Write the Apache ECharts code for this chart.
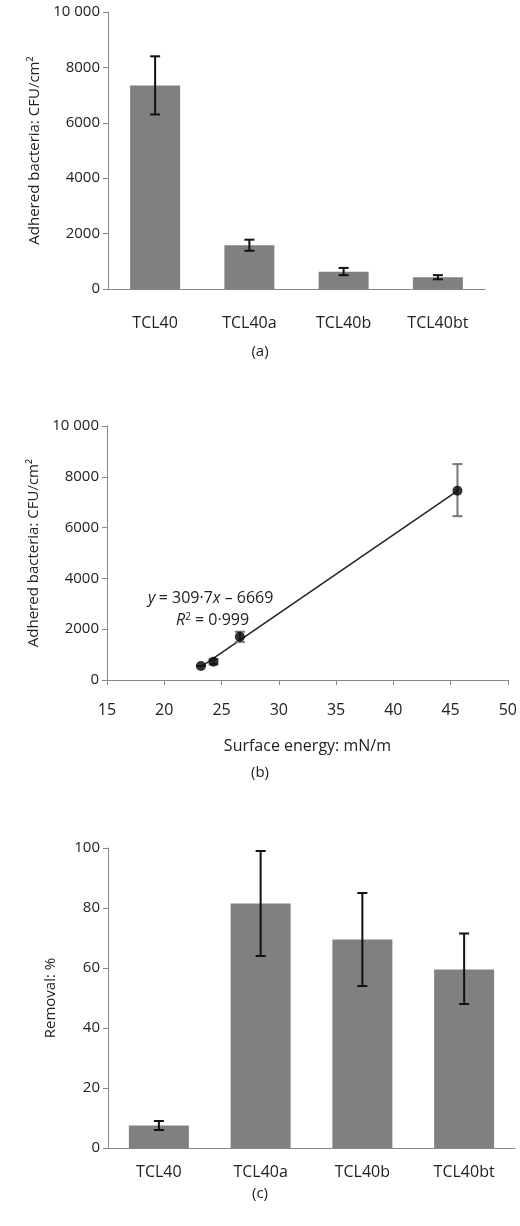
<!DOCTYPE html>
<html><head><meta charset="utf-8">
<script src="https://cdn.jsdelivr.net/npm/echarts@6/dist/echarts.min.js"></script>
<style>html,body{margin:0;padding:0;background:#fff}#c{width:520px;height:1226px}</style>
</head><body><div id="c"></div>
<script>
const categories = ['TCL40','TCL40a','TCL40b','TCL40bt'];
const adhered = [7350, 1580, 620, 420];
const adheredLow = [6300, 1380, 500, 350];
const adheredHigh = [8400, 1780, 760, 500];
const energyX = [23.2, 24.3, 26.6, 45.6];
const energyY = [550, 720, 1700, 7450];
const energyLow = [550, 620, 1500, 6450];
const energyHigh = [550, 820, 1900, 8500];
const trend = [[23.2, 520], [45.6, 7450]];
const removal = [7.5, 81.5, 69.5, 59.5];
const removalLow = [6, 64, 54, 48];
const removalHigh = [9, 99, 85, 71.5];

const font = 'Open Sans';
const fmt = v => v >= 10000 ? '10 000' : String(v);
const axisLine = {show:true, lineStyle:{color:'#888'}};
function errSeries(xi, yi, data, color){
  return {type:'custom', xAxisIndex:xi, yAxisIndex:yi, z:5, data:data,
    renderItem:(p,api)=>{
      const x=api.value(0), lo=api.value(1), hi=api.value(2);
      const a=api.coord([x,lo]), b=api.coord([x,hi]);
      const s={stroke:color,lineWidth:2};
      return {type:'group',children:[
        {type:'line',shape:{x1:a[0],y1:a[1],x2:b[0],y2:b[1]},style:s},
        {type:'line',shape:{x1:a[0]-5,y1:a[1],x2:a[0]+5,y2:a[1]},style:s},
        {type:'line',shape:{x1:b[0]-5,y1:b[1],x2:b[0]+5,y2:b[1]},style:s}]};
    }};
}
const yName = (n)=>({name:n, nameLocation:'middle', nameGap:58, nameTextStyle:{fontFamily:font,fontSize:15,color:'#222'}});
const opt = {
  animation:false,
  textStyle:{fontFamily:font},
  grid:[{left:108,right:35,top:12,height:277},{left:107,right:7,top:426,height:254},{left:108,right:5,top:848,height:300}],
  xAxis:[
    {gridIndex:0,type:'category',data:categories,axisLine:axisLine,axisTick:{show:false},axisLabel:{fontSize:16,color:'#222',margin:26}},
    {gridIndex:1,type:'value',min:15,max:50,interval:5,axisLine:axisLine,axisTick:{show:true,lineStyle:{color:'#888'}},splitLine:{show:false},axisLabel:{fontSize:16,color:'#222',margin:22},
      name:'Surface energy: mN/m',nameLocation:'middle',nameGap:58,nameTextStyle:{fontSize:16,color:'#222'}},
    {gridIndex:2,type:'category',data:categories,axisLine:axisLine,axisTick:{show:false},axisLabel:{fontSize:16,color:'#222',margin:16}}
  ],
  yAxis:[
    Object.assign({gridIndex:0,type:'value',min:0,max:10000,interval:2000,axisLine:axisLine,axisTick:{show:true,lineStyle:{color:'#888'}},splitLine:{show:false},axisLabel:{fontSize:15,color:'#222',formatter:fmt}},yName('Adhered bacteria: CFU/cm²')),
    Object.assign({gridIndex:1,type:'value',min:0,max:10000,interval:2000,axisLine:axisLine,axisTick:{show:true,lineStyle:{color:'#888'}},splitLine:{show:false},axisLabel:{fontSize:15,color:'#222',formatter:fmt}},yName('Adhered bacteria: CFU/cm²')),
    Object.assign({gridIndex:2,type:'value',min:0,max:100,interval:20,axisLine:axisLine,axisTick:{show:true,lineStyle:{color:'#888'}},splitLine:{show:false},axisLabel:{fontSize:15,color:'#222'}},yName('Removal: %'),{nameGap:50})
  ],
  graphic:[
    {type:'text',left:'center',top:344,style:{text:'(a)',font:'15px Open Sans',fill:'#222'}},
    {type:'text',left:'center',top:765,style:{text:'(b)',font:'15px Open Sans',fill:'#222'}},
    {type:'text',left:'center',top:1186,style:{text:'(c)',font:'15px Open Sans',fill:'#222'}},
    {type:'text',left:148,top:590,style:{rich:{i:{fontStyle:'italic',fontSize:16,fontFamily:font},n:{fontSize:16,fontFamily:font}},text:'{i|y} {n|= 309·7}{i|x}{n| – 6669}',fill:'#222'}},
    {type:'text',left:176,top:612,style:{rich:{i:{fontStyle:'italic',fontSize:16,fontFamily:font},n:{fontSize:16,fontFamily:font},s:{fontSize:10,verticalAlign:'top',fontFamily:font}},text:'{i|R}{s|2}{n| = 0·999}',fill:'#222'}}
  ],
  series:[
    {type:'bar',xAxisIndex:0,yAxisIndex:0,data:adhered,barWidth:50,itemStyle:{color:'#808080'}},
    errSeries(0,0,categories.map((c,i)=>[i,adheredLow[i],adheredHigh[i]]),'#111'),
    {type:'line',xAxisIndex:1,yAxisIndex:1,data:trend,symbol:'none',lineStyle:{color:'#222',width:1.5}},
    errSeries(1,1,energyX.map((x,i)=>[x,energyLow[i],energyHigh[i]]),'#777'),
    {type:'scatter',xAxisIndex:1,yAxisIndex:1,z:6,data:energyX.map((x,i)=>[x,energyY[i]]),symbolSize:10,itemStyle:{color:'#000'}},
    {type:'bar',xAxisIndex:2,yAxisIndex:2,data:removal,barWidth:60,itemStyle:{color:'#808080'}},
    errSeries(2,2,categories.map((c,i)=>[i,removalLow[i],removalHigh[i]]),'#111')
  ]
};
echarts.init(document.getElementById('c')).setOption(opt);
</script></body></html>
